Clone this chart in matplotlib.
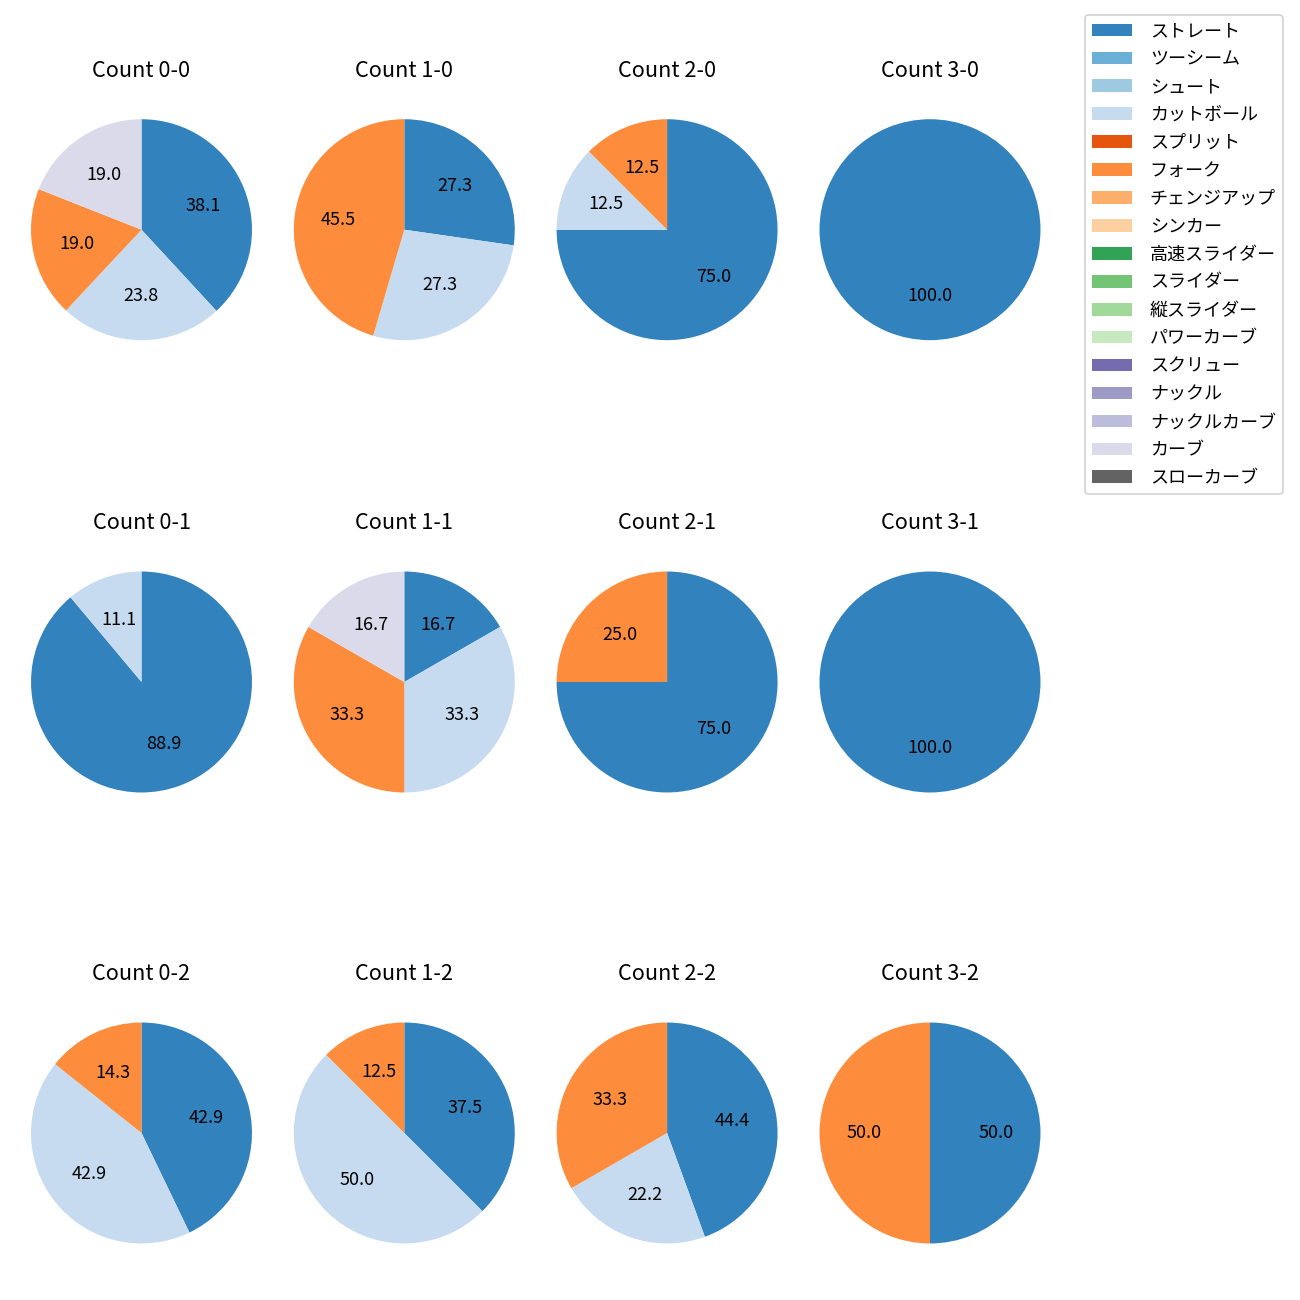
import matplotlib
matplotlib.use("Agg")
import matplotlib.pyplot as plt
from matplotlib.patches import Patch

plt.rcParams['font.family'] = ['Noto Sans CJK JP', 'DejaVu Sans']

pitch_types = ['ストレート', 'ツーシーム', 'シュート', 'カットボール', 'スプリット', 'フォーク',
               'チェンジアップ', 'シンカー', '高速スライダー', 'スライダー', '縦スライダー',
               'パワーカーブ', 'スクリュー', 'ナックル', 'ナックルカーブ', 'カーブ', 'スローカーブ']
pitch_colors = ['#3182bd', '#6baed6', '#9ecae1', '#c6dbef', '#e6550d', '#fd8d3c',
                '#fdae6b', '#fdd0a2', '#31a354', '#74c476', '#a1d99b', '#c7e9c0',
                '#756bb1', '#9e9ac8', '#bcbddc', '#dadaeb', '#636363']

counts = ['0-0', '1-0', '2-0', '3-0',
          '0-1', '1-1', '2-1', '3-1',
          '0-2', '1-2', '2-2', '3-2']

# percentages per count
count_0_0 = {'ストレート': 38.1, 'カットボール': 23.8, 'フォーク': 19.0, 'カーブ': 19.0}
count_1_0 = {'ストレート': 27.3, 'カットボール': 27.3, 'フォーク': 45.5}
count_2_0 = {'ストレート': 75.0, 'カットボール': 12.5, 'フォーク': 12.5}
count_3_0 = {'ストレート': 100.0}
count_0_1 = {'ストレート': 88.9, 'カットボール': 11.1}
count_1_1 = {'ストレート': 16.7, 'カットボール': 33.3, 'フォーク': 33.3, 'カーブ': 16.7}
count_2_1 = {'ストレート': 75.0, 'フォーク': 25.0}
count_3_1 = {'ストレート': 100.0}
count_0_2 = {'ストレート': 42.9, 'カットボール': 42.9, 'フォーク': 14.3}
count_1_2 = {'ストレート': 37.5, 'カットボール': 50.0, 'フォーク': 12.5}
count_2_2 = {'ストレート': 44.4, 'カットボール': 22.2, 'フォーク': 33.3}
count_3_2 = {'ストレート': 50.0, 'フォーク': 50.0}

count_data = [count_0_0, count_1_0, count_2_0, count_3_0,
              count_0_1, count_1_1, count_2_1, count_3_1,
              count_0_2, count_1_2, count_2_2, count_3_2]

color_map = dict(zip(pitch_types, pitch_colors))

W = 1300.0
fig = plt.figure(figsize=(10, 10), dpi=130)

col_centers = [141.5, 404.3, 667.1, 930.0]
row_centers = [229.7, 682.0, 1133.0]
half = 138.1

for i, (cnt, data) in enumerate(zip(counts, count_data)):
    r, c = divmod(i, 4)
    cx, cy = col_centers[c], row_centers[r]
    ax = fig.add_axes([(cx - half) / W, 1 - (cy + half) / W, 2 * half / W, 2 * half / W])
    labels = [p for p in pitch_types if p in data]
    vals = [data[p] for p in labels]
    cols = [color_map[p] for p in labels]
    ax.pie(vals, colors=cols, startangle=90, counterclock=False,
           autopct='%.1f', textprops={'fontsize': 10})
    ax.set_title(f'Count {cnt}', fontsize=12, pad=8.2)

handles = [Patch(facecolor=c, label=p) for p, c in zip(pitch_types, pitch_colors)]
fig.legend(handles=handles, loc='upper right', bbox_to_anchor=(1283 / W, 1 - 15 / W),
           borderaxespad=0, fontsize=10, labelspacing=0.55,
           handlelength=2.2, handletextpad=1.0)

fig.savefig('out.png', dpi=130)
